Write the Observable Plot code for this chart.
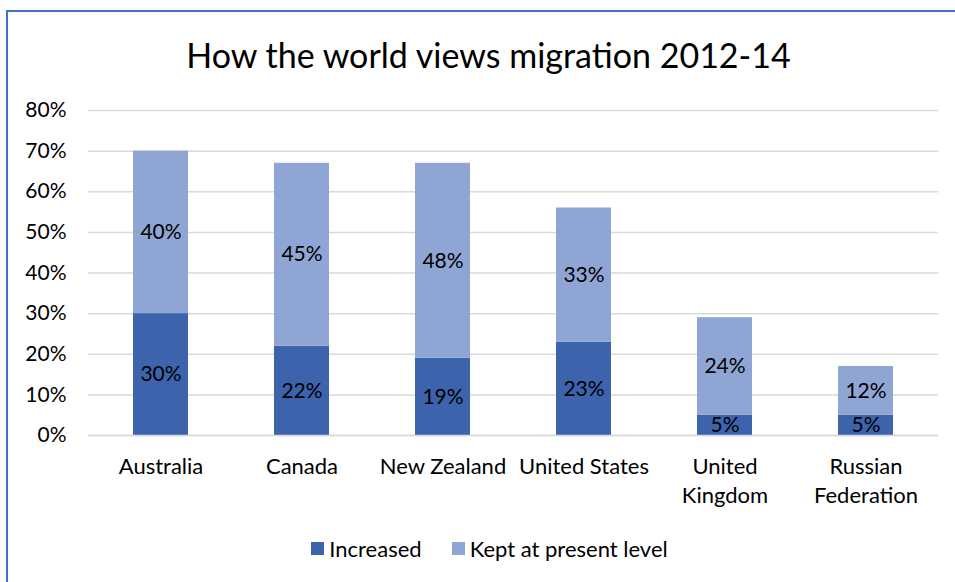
<!DOCTYPE html>
<html>
<head>
<meta charset="utf-8">
<script src="https://cdn.jsdelivr.net/npm/d3@7"></script>
<script src="https://cdn.jsdelivr.net/npm/@observablehq/plot@0.6"></script>
<style>
  html, body { margin: 0; padding: 0; background: #fff; }
  body { width: 955px; height: 582px; position: relative; overflow: hidden; font-family: Lato, "Open Sans", sans-serif; color: #000; }
  #frame { position: absolute; left: 6px; top: 10px; width: 960px; height: 600px; border-left: 2.5px solid #4472c4; border-top: 2.5px solid #4472c4; box-sizing: border-box; }
  #title { position: absolute; left: 0; width: 977px; top: 34px; text-align: center; font-size: 34px; }
  #chart { position: absolute; left: 0; top: 90px; }
  #legend { position: absolute; top: 535px; left: 0; width: 979px; display: flex; justify-content: center; gap: 30px; font-size: 22px; }
  .item { display: flex; align-items: center; gap: 5px; }
  .sw { width: 13px; height: 13px; display: inline-block; }
</style>
</head>
<body>
<div id="frame"></div>
<div id="title">How the world views migration 2012-14</div>
<div id="chart"></div>
<div id="legend"></div>
<script>
const countries = ["Australia", "Canada", "New Zealand", "United States", "United Kingdom", "Russian Federation"];
const tickLabels = ["Australia", "Canada", "New Zealand", "United States", "United\nKingdom", "Russian\nFederation"];
const increased = [30, 22, 19, 23, 5, 5];
const kept = [40, 45, 48, 33, 24, 12];
const seriesNames = ["Increased", "Kept at present level"];
const seriesColors = ["#3c63ac", "#8fa5d4"];
const yTicks = [0, 10, 20, 30, 40, 50, 60, 70, 80];

const rows = [];
countries.forEach((c, i) => {
  rows.push({country: c, series: seriesNames[0], value: increased[i]});
  rows.push({country: c, series: seriesNames[1], value: kept[i]});
});
const labelOf = new Map(countries.map((c, i) => [c, tickLabels[i]]));

const plot = Plot.plot({
  width: 955,
  height: 425,
  marginLeft: 88,
  marginRight: 17,
  marginTop: 20,
  marginBottom: 80,
  style: {fontFamily: "Lato, 'Open Sans', sans-serif", fontSize: "21px", color: "#000", background: "transparent"},
  x: {domain: countries, paddingInner: 0.61, paddingOuter: 0.305, label: null},
  y: {domain: [0, 80], label: null},
  color: {domain: seriesNames, range: seriesColors},
  marks: [
    Plot.gridY(yTicks, {stroke: "#d9d9d9", strokeOpacity: 1, strokeWidth: 1.5}),
    Plot.axisY(yTicks, {tickSize: 0, tickPadding: 22, tickFormat: d => d + "%", fontSize: 21, label: null}),
    Plot.barY(rows, Plot.stackY({x: "country", y: "value", fill: "series", order: seriesNames})),
    Plot.ruleY([0], {stroke: "#d9d9d9", strokeWidth: 1.5}),
    Plot.text(rows, Plot.stackY({x: "country", y: "value", z: "series", order: seriesNames, text: d => d.value + "%", fill: "#000", fontSize: 21})),
    Plot.axisX({tickSize: 0, tickPadding: 18, tickFormat: d => labelOf.get(d), fontSize: 22, lineHeight: 1.32, label: null, lineAnchor: "top"})
  ]
});
document.getElementById("chart").appendChild(plot);

const legend = document.getElementById("legend");
seriesNames.forEach((s, i) => {
  const item = document.createElement("div");
  item.className = "item";
  const sw = document.createElement("span");
  sw.className = "sw";
  sw.style.background = seriesColors[i];
  const t = document.createElement("span");
  t.textContent = s;
  item.appendChild(sw);
  item.appendChild(t);
  legend.appendChild(item);
});
</script>
</body>
</html>
